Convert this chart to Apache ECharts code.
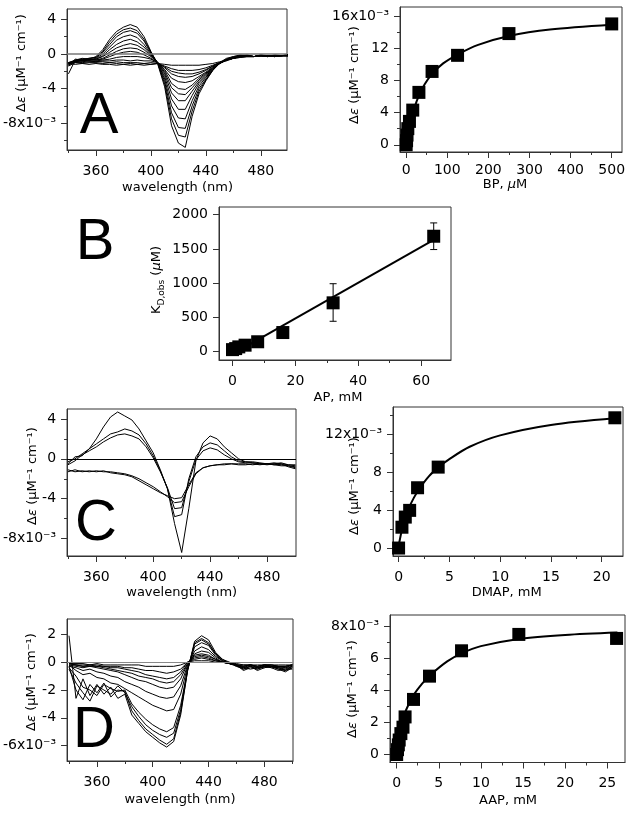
<!DOCTYPE html>
<html><head><meta charset="utf-8">
<script src="https://cdn.jsdelivr.net/npm/echarts@6/dist/echarts.min.js"></script>
<style>html,body{margin:0;padding:0;background:#fff}#c{width:631px;height:813px}</style>
</head><body><div id="c"></div>
<script>
// ---------- DATA ----------
const wl = [340,345,350,355,360,365,370,375,380,385,390,395,400,405,410,415,420,425,430,435,440,445,450,455,460,465,470,475,480,485,490,495,500];

// Panel A spectra (x1e-3)
const aSpec1  = [-1.1,-1.2,-1.1,-1.2,-1.1,-1.2,-1.2,-1.3,-1.2,-1.3,-1.2,-1.3,-1.2,-1.1,-1.2,-1.3,-1.3,-1.3,-1.3,-1.3,-1.2,-1.1,-0.9,-0.7,-0.5,-0.4,-0.3,-0.3,-0.2,-0.3,-0.2,-0.2,-0.1];
const aSpec2  = [-1.4,-1.0,-1.1,-1.0,-1.0,-1.1,-1.0,-1.1,-1.2,-1.1,-1.2,-1.1,-1.2,-1.1,-1.4,-1.7,-1.9,-1.9,-1.9,-1.8,-1.6,-1.3,-1.0,-0.7,-0.5,-0.4,-0.3,-0.3,-0.2,-0.2,-0.3,-0.2,-0.2];
const aSpec3  = [-1.2,-0.9,-1.0,-0.9,-0.9,-0.9,-1.0,-0.9,-1.0,-1.0,-1.0,-1.1,-1.0,-1.1,-1.5,-2.0,-2.2,-2.3,-2.3,-2.1,-1.8,-1.4,-1.0,-0.8,-0.5,-0.3,-0.3,-0.3,-0.2,-0.3,-0.2,-0.2,-0.1];
const aSpec4  = [-1.0,-1.0,-0.9,-0.8,-0.9,-0.8,-0.8,-0.7,-0.7,-0.8,-0.7,-0.8,-0.8,-1.0,-1.6,-2.3,-2.6,-2.7,-2.6,-2.3,-1.9,-1.4,-1.0,-0.7,-0.5,-0.3,-0.2,-0.3,-0.2,-0.2,-0.3,-0.2,-0.2];
const aSpec5  = [-1.3,-0.9,-0.8,-0.8,-0.8,-0.7,-0.6,-0.4,-0.3,-0.3,-0.3,-0.4,-0.6,-1.0,-1.8,-2.8,-3.2,-3.3,-3.1,-2.6,-2.1,-1.5,-1.0,-0.7,-0.5,-0.3,-0.3,-0.3,-0.2,-0.3,-0.2,-0.2,-0.2];
const aSpec6  = [-1.1,-0.8,-0.8,-0.7,-0.7,-0.6,-0.3,0.0,0.2,0.3,0.2,-0.1,-0.5,-1.0,-1.9,-3.4,-4.0,-4.1,-3.6,-2.8,-2.2,-1.6,-1.1,-0.7,-0.5,-0.3,-0.2,-0.3,-0.2,-0.2,-0.3,-0.2,-0.1];
const aSpec7  = [-1.0,-0.9,-0.7,-0.6,-0.7,-0.5,-0.1,0.3,0.6,0.7,0.6,0.2,-0.3,-1.0,-2.1,-3.9,-4.6,-4.7,-3.9,-3.0,-2.3,-1.6,-1.1,-0.7,-0.4,-0.2,-0.3,-0.3,-0.2,-0.3,-0.2,-0.2,-0.2];
const aSpec8  = [-1.2,-0.8,-0.7,-0.7,-0.6,-0.3,0.2,0.7,1.0,1.2,1.0,0.5,-0.2,-1.0,-2.3,-4.5,-5.4,-5.4,-4.3,-3.2,-2.4,-1.7,-1.1,-0.7,-0.4,-0.3,-0.2,-0.3,-0.2,-0.2,-0.3,-0.2,-0.1];
const aSpec9  = [-1.0,-0.7,-0.8,-0.6,-0.6,-0.2,0.5,1.1,1.5,1.7,1.4,0.8,-0.1,-1.0,-2.6,-5.2,-6.4,-6.4,-4.8,-3.4,-2.6,-1.7,-1.1,-0.7,-0.4,-0.2,-0.2,-0.3,-0.2,-0.3,-0.2,-0.2,-0.2];
const aSpec10 = [-1.1,-0.8,-0.6,-0.7,-0.5,0.0,0.8,1.6,2.0,2.2,1.9,1.1,0.0,-1.0,-2.9,-6.0,-7.4,-7.5,-5.4,-3.7,-2.7,-1.8,-1.1,-0.6,-0.4,-0.2,-0.3,-0.3,-0.2,-0.2,-0.3,-0.2,-0.1];
const aSpec11 = [-1.3,-0.6,-0.7,-0.5,-0.4,0.2,1.1,2.0,2.5,2.7,2.4,1.5,0.1,-1.1,-3.2,-6.8,-8.5,-8.6,-6.0,-4.0,-2.9,-1.8,-1.1,-0.7,-0.4,-0.2,-0.2,-0.3,-0.1,-0.3,-0.2,-0.2,-0.2];
const aSpec12 = [-1.0,-0.8,-0.6,-0.5,-0.4,0.3,1.4,2.3,2.8,3.0,2.7,1.7,0.2,-1.1,-3.5,-7.5,-9.4,-9.6,-6.6,-4.3,-3.0,-1.9,-1.1,-0.6,-0.3,-0.2,-0.1,-0.3,-0.2,-0.3,-0.1,-0.2,-0.2];
const aSpec13 = [-2.3,-0.7,-0.5,-0.6,-0.3,0.5,1.7,2.6,3.1,3.4,3.1,2.0,0.3,-1.2,-3.8,-8.3,-10.3,-10.8,-7.2,-4.6,-3.1,-1.9,-1.0,-0.5,-0.3,-0.1,-0.2,-0.3,-0.1,-0.2,-0.3,-0.2,-0.1];
const aSpectra = [aSpec1,aSpec2,aSpec3,aSpec4,aSpec5,aSpec6,aSpec7,aSpec8,aSpec9,aSpec10,aSpec11,aSpec12,aSpec13];

// Panel A binding (BP, uM)
const aBindX = [0,1,2,4,8,16,31,63,125,250,500];
const aBindY = [0,0.5,1.2,2.0,2.9,4.3,6.5,9.1,11.1,13.8,15.0];
const aFitX  = [0,2,5,10,20,31,45,63,90,125,175,250,350,500];
const aFitY  = [0,0.7,1.6,2.9,4.6,6.1,7.5,8.8,10.1,11.2,12.4,13.5,14.3,14.9];

// Panel B
const bX = [0,1,2,4,8,16,32,64];
const bY = [25,40,65,90,140,275,710,1685];
const bErrX = [32,64];
const bErrLo = [440,1490];
const bErrHi = [990,1880];
const bFitX = [0,64];
const bFitY = [-40,1630];

// Panel C spectra
const cSpec1 = [-0.5,0.2,0.3,1.0,2.0,3.2,4.2,4.7,4.3,3.9,3.0,1.8,0.6,-1.1,-3.0,-6.5,-9.4,-5.0,-0.2,1.6,2.3,2.0,1.2,0.6,0.0,-0.3,-0.3,-0.4,-0.5,-0.6,-0.5,-0.8,-1.0];
const cSpec2 = [-0.3,0.0,0.5,1.0,1.5,2.0,2.5,2.7,3.0,2.8,2.4,1.5,0.3,-1.2,-3.0,-5.8,-5.6,-2.0,0.2,1.2,1.6,1.4,0.8,0.2,-0.2,-0.3,-0.4,-0.5,-0.5,-0.4,-0.5,-0.6,-0.7];
const cSpec3 = [-0.6,-0.2,0.4,0.8,1.2,1.7,2.1,2.4,2.5,2.3,2.0,1.2,0.1,-1.3,-2.9,-5.0,-4.9,-2.3,-0.1,0.8,1.1,0.9,0.4,0.0,-0.3,-0.4,-0.4,-0.5,-0.5,-0.5,-0.4,-0.6,-0.6];
const cSpec4 = [-1.1,-1.3,-1.2,-1.3,-1.2,-1.3,-1.3,-1.4,-1.5,-1.7,-2.0,-2.4,-2.8,-3.3,-3.8,-4.4,-4.3,-2.8,-1.5,-0.9,-0.7,-0.6,-0.5,-0.5,-0.5,-0.5,-0.6,-0.5,-0.6,-0.5,-0.6,-0.7,-0.8];
const cSpec5 = [-1.3,-1.1,-1.3,-1.2,-1.3,-1.2,-1.4,-1.5,-1.6,-1.8,-2.2,-2.6,-3.0,-3.4,-3.7,-4.0,-3.9,-2.6,-1.4,-0.9,-0.7,-0.6,-0.6,-0.5,-0.6,-0.6,-0.5,-0.6,-0.5,-0.6,-0.7,-0.7,-0.9];
const cSpectra = [cSpec1,cSpec2,cSpec3,cSpec4,cSpec5];

// Panel C binding (DMAP, mM)
const cBindX = [0,0.33,0.66,1.09,1.87,3.9,21.3];
const cBindY = [0,2.2,3.27,3.98,6.37,8.55,13.76];
const cFitX  = [0,0.3,0.6,1,1.5,2,3,4,5,7,10,15,21.3];
const cFitY  = [0.2,1.8,3.0,4.2,5.3,6.2,7.6,8.6,9.4,10.7,11.9,13.0,13.7];

// Panel D spectra
const dSpec1  = [-0.1,-0.1,-0.1,-0.2,-0.1,-0.2,-0.2,-0.2,-0.2,-0.2,-0.2,-0.3,-0.3,-0.3,-0.3,-0.3,-0.2,0.0,0.1,0.1,0.1,0.0,0.0,-0.1,-0.1,-0.2,-0.2,-0.2,-0.2,-0.2,-0.2,-0.2,-0.2];
const dSpec2  = [-0.1,-0.2,-0.2,-0.2,-0.2,-0.3,-0.3,-0.3,-0.4,-0.4,-0.5,-0.6,-0.6,-0.7,-0.8,-0.7,-0.5,0.0,0.2,0.3,0.2,0.1,0.0,-0.1,-0.2,-0.2,-0.2,-0.3,-0.2,-0.2,-0.3,-0.3,-0.2];
const dSpec3  = [-0.1,-0.2,-0.3,-0.2,-0.3,-0.3,-0.4,-0.4,-0.5,-0.6,-0.7,-0.9,-1.0,-1.1,-1.2,-1.1,-0.7,0.0,0.3,0.4,0.3,0.1,0.0,-0.1,-0.2,-0.3,-0.2,-0.3,-0.2,-0.2,-0.3,-0.3,-0.2];
const dSpec4  = [-0.2,-0.2,-0.3,-0.3,-0.3,-0.4,-0.5,-0.6,-0.7,-0.8,-1.0,-1.1,-1.2,-1.4,-1.5,-1.4,-0.9,-0.1,0.4,0.5,0.4,0.2,0.0,-0.1,-0.2,-0.3,-0.2,-0.3,-0.2,-0.3,-0.3,-0.3,-0.2];
const dSpec5  = [-0.2,-0.3,-0.4,-0.3,-0.4,-0.5,-0.6,-0.7,-0.9,-1.1,-1.3,-1.4,-1.6,-1.8,-1.9,-1.8,-1.2,-0.1,0.5,0.6,0.5,0.2,0.0,-0.1,-0.2,-0.3,-0.2,-0.4,-0.2,-0.3,-0.3,-0.4,-0.2];
const dSpec6  = [-0.3,-0.4,-0.6,-0.5,-0.7,-0.8,-1.0,-1.1,-1.4,-1.6,-1.8,-2.1,-2.3,-2.5,-2.6,-2.5,-1.7,-0.2,0.6,0.8,0.7,0.3,0.0,-0.1,-0.2,-0.4,-0.2,-0.4,-0.3,-0.3,-0.4,-0.4,-0.3];
const dSpec7  = [-0.2,-0.6,-0.9,-0.8,-1.1,-1.2,-1.5,-1.6,-1.9,-2.2,-2.5,-2.8,-3.1,-3.3,-3.5,-3.4,-2.3,-0.3,0.8,1.1,0.9,0.4,0.1,-0.1,-0.2,-0.4,-0.3,-0.4,-0.3,-0.3,-0.4,-0.5,-0.3];
const dSpec8  = [-0.4,-1.0,-1.8,-2.0,-2.4,-1.6,-1.9,-2.1,-2.0,-3.0,-3.6,-4.1,-4.5,-4.8,-5.0,-4.7,-3.1,-0.5,1.1,1.4,1.2,0.5,0.1,-0.1,-0.2,-0.5,-0.3,-0.5,-0.3,-0.4,-0.4,-0.6,-0.4];
const dSpec9  = [-0.5,-1.5,-2.2,-2.8,-1.7,-2.0,-2.3,-1.7,-2.2,-3.2,-3.9,-4.5,-4.9,-5.2,-5.4,-5.1,-3.4,-0.5,1.3,1.6,1.3,0.6,0.1,-0.1,-0.3,-0.4,-0.5,-0.4,-0.4,-0.3,-0.5,-0.6,-0.3];
const dSpec10 = [-0.3,-2.0,-2.7,-1.6,-2.2,-1.5,-2.5,-2.0,-2.1,-3.5,-4.2,-4.8,-5.2,-5.6,-5.9,-5.5,-3.6,-0.6,1.4,1.7,1.4,0.6,0.2,-0.1,-0.2,-0.6,-0.4,-0.5,-0.3,-0.4,-0.6,-0.5,-0.5];
const dSpec11 = [1.9,-2.6,-1.2,-2.4,-1.6,-2.3,-1.8,-2.6,-2.3,-3.8,-4.4,-5.0,-5.4,-5.8,-6.1,-5.7,-3.8,-0.6,1.5,1.9,1.6,0.7,0.2,0.0,-0.3,-0.5,-0.3,-0.6,-0.4,-0.3,-0.5,-0.7,-0.4];
const dSpectra = [dSpec1,dSpec2,dSpec3,dSpec4,dSpec5,dSpec6,dSpec7,dSpec8,dSpec9,dSpec10,dSpec11];

// Panel D binding (AAP, mM)
const dBindX = [0,0.1,0.2,0.3,0.5,0.75,1.0,2.0,3.9,7.7,14.5,26.1];
const dBindY = [0,0.3,0.6,0.9,1.3,1.7,2.34,3.43,4.88,6.46,7.48,7.23];
const dFitX  = [0,0.25,0.5,1,1.5,2,3,4,6,7.7,10,14.5,20,26.2];
const dFitY  = [0,0.9,1.6,2.6,3.2,3.7,4.4,4.95,5.8,6.3,6.75,7.2,7.45,7.6];

// Tick values / labels
const specXTicks = [360,400,440,480];
const specXLabels = ['360','400','440','480'];
const specXMinor = [340,380,420,460];
const specXMinorD = [340,380,420,460,500];
const aSpecYTicks = [-8,-4,0,4];
const aSpecYLabels = ['-8x10⁻³','-4','0','4'];
const aSpecYMinor = [-10,-6,-2,2];
const aBindXTicks = [0,100,200,300,400,500];
const aBindXLabels = ['0','100','200','300','400','500'];
const aBindXMinor = [50,150,250,350,450];
const aBindYTicks = [0,4,8,12,16];
const aBindYLabels = ['0','4','8','12','16x10⁻³'];
const aBindYMinor = [2,6,10,14];
const bXTicks = [0,20,40,60];
const bXLabels = ['0','20','40','60'];
const bXMinor = [10,30,50];
const bYTicks = [0,500,1000,1500,2000];
const bYLabels = ['0','500','1000','1500','2000'];
const cSpecYTicks = [-8,-4,0,4];
const cSpecYLabels = ['-8x10⁻³','-4','0','4'];
const cSpecYMinor = [-6,-2,2];
const cBindXTicks = [0,5,10,15,20];
const cBindXLabels = ['0','5','10','15','20'];
const cBindXMinor = [2.5,7.5,12.5,17.5];
const cBindYTicks = [0,4,8,12];
const cBindYLabels = ['0','4','8','12x10⁻³'];
const cBindYMinor = [2,6,10,14];
const dSpecYTicks = [-6,-4,-2,0,2];
const dSpecYLabels = ['-6x10⁻³','-4','-2','0','2'];
const dBindXTicks = [0,5,10,15,20,25];
const dBindXLabels = ['0','5','10','15','20','25'];
const dBindXMinor = [2.5,7.5,12.5,17.5,22.5];
const dBindYTicks = [0,2,4,6,8];
const dBindYLabels = ['0','2','4','6','8x10⁻³'];
const dBindYMinor = [1,3,5,7];

// ---------- CHART ----------
const FONT = 'DejaVu Sans';
const AX = '#333';
const grids = [], xAxes = [], yAxes = [], series = [], graphics = [];

function fmt(ticks, labels){
  return v => { const i = ticks.findIndex(t => Math.abs(t - v) < 1e-9); return i >= 0 ? labels[i] : ''; };
}
function addPanel(p){
  const gi = grids.length;
  grids.push({left:p.g[0], top:p.g[1], width:p.g[2], height:p.g[3], show:true, borderColor:AX, borderWidth:1, backgroundColor:'transparent'});
  const xi = xAxes.length, yi = yAxes.length;
  const common = {type:'value', gridIndex:gi, splitLine:{show:false}, minorSplitLine:{show:false}, silent:true};
  xAxes.push(Object.assign({}, common, {min:p.xr[0], max:p.xr[1], position:'bottom',
    axisLine:{show:true, onZero:false, lineStyle:{color:AX, width:1}},
    axisTick:{show:true, customValues:p.xt, length:6, lineStyle:{color:AX, width:1}},
    axisLabel:{show:true, customValues:p.xt, formatter:fmt(p.xt,p.xl), color:'#000', fontFamily:FONT, fontSize:14, margin:(p.xmg||14)}}));
  if (p.xm) xAxes.push(Object.assign({}, common, {min:p.xr[0], max:p.xr[1], position:'bottom',
    axisLine:{show:false, onZero:false}, axisTick:{show:true, customValues:p.xm, length:3, lineStyle:{color:AX, width:1}},
    axisLabel:{show:false}}));
  yAxes.push(Object.assign({}, common, {min:p.yr[0], max:p.yr[1], position:'left',
    axisLine:{show:true, onZero:false, lineStyle:{color:AX, width:1}},
    axisTick:{show:true, customValues:p.yt, length:6, lineStyle:{color:AX, width:1}},
    axisLabel:{show:true, customValues:p.yt, formatter:fmt(p.yt,p.yl), color:'#000', fontFamily:FONT, fontSize:14, margin:11}}));
  if (p.ym) yAxes.push(Object.assign({}, common, {min:p.yr[0], max:p.yr[1], position:'left',
    axisLine:{show:false, onZero:false}, axisTick:{show:true, customValues:p.ym, length:3, lineStyle:{color:AX, width:1}},
    axisLabel:{show:false}}));
  return {xi, yi};
}
function lineS(ax, xs, ys, w, extra){
  return Object.assign({type:'line', xAxisIndex:ax.xi, yAxisIndex:ax.yi, data:xs.map((x,i)=>[x,ys[i]]),
    showSymbol:false, symbol:'none', lineStyle:{color:'#000', width:w}, animation:false, silent:true, z:3}, extra||{});
}
function scatS(ax, xs, ys){
  return {type:'scatter', xAxisIndex:ax.xi, yAxisIndex:ax.yi, data:xs.map((x,i)=>[x,ys[i]]),
    symbol:'rect', symbolSize:13, itemStyle:{color:'#000', opacity:1}, animation:false, silent:true, z:5};
}
function zeroLine(color, w){
  return {silent:true, symbol:['none','none'], label:{show:false}, lineStyle:{color:color, width:w, type:'solid'}, data:[{yAxis:0}], animation:false};
}

// Panel A spectrum
const pA = addPanel({g:[67,9,220,141], xr:[339,499], yr:[-11.1,5.2], xt:specXTicks, xl:specXLabels, xm:specXMinor, yt:aSpecYTicks, yl:aSpecYLabels, ym:aSpecYMinor});
aSpectra.forEach((s,i)=> series.push(lineS(pA, wl, s, 1, i===0 ? {markLine:zeroLine('#777',1.5)} : {})));
// Panel A binding
const pA2 = addPanel({g:[400,7,222,145], xr:[-15,525], yr:[-0.9,17.1], xt:aBindXTicks, xl:aBindXLabels, xm:aBindXMinor, yt:aBindYTicks, yl:aBindYLabels, ym:aBindYMinor, xmg:11});
series.push(lineS(pA2, aFitX, aFitY, 2, {smooth:0.3}));
series.push(scatS(pA2, aBindX, aBindY));
// Panel B
const pB = addPanel({g:[219,207,232,153], xr:[-4.3,69.5], yr:[-127,2113], xt:bXTicks, xl:bXLabels, xm:bXMinor, yt:bYTicks, yl:bYLabels});
series.push(lineS(pB, bFitX, bFitY, 2));
series.push({type:'custom', xAxisIndex:pB.xi, yAxisIndex:pB.yi, data:bErrX.map((x,i)=>[x,bErrLo[i],bErrHi[i]]), animation:false, silent:true, z:4,
  renderItem:(params, api)=>{
    const x = api.value(0), p1 = api.coord([x, api.value(1)]), p2 = api.coord([x, api.value(2)]);
    const w = 3.5, st = {stroke:'#000', lineWidth:1};
    return {type:'group', children:[
      {type:'line', shape:{x1:p1[0], y1:p1[1], x2:p2[0], y2:p2[1]}, style:st},
      {type:'line', shape:{x1:p1[0]-w, y1:p1[1], x2:p1[0]+w, y2:p1[1]}, style:st},
      {type:'line', shape:{x1:p2[0]-w, y1:p2[1], x2:p2[0]+w, y2:p2[1]}, style:st}]};
  }});
series.push(scatS(pB, bX, bY));
// Panel C spectrum
const pC = addPanel({g:[67,409,229,147], xr:[339.4,500.4], yr:[-9.75,5.0], xt:specXTicks, xl:specXLabels, xm:specXMinor, yt:cSpecYTicks, yl:cSpecYLabels, ym:cSpecYMinor});
cSpectra.forEach((s,i)=> series.push(lineS(pC, wl, s, 1, i===0 ? {markLine:zeroLine('#000',1)} : {})));
// Panel C binding
const pC2 = addPanel({g:[393,407,230,149], xr:[-0.55,22.1], yr:[-0.84,14.9], xt:cBindXTicks, xl:cBindXLabels, xm:cBindXMinor, yt:cBindYTicks, yl:cBindYLabels, ym:cBindYMinor});
series.push(lineS(pC2, cFitX, cFitY, 2, {smooth:0.3}));
series.push(scatS(pC2, cBindX, cBindY));
// Panel D spectrum
const pD = addPanel({g:[64,619,229,142], xr:[338.6,500.5], yr:[-7.1,3.1], xt:specXTicks, xl:specXLabels, xm:specXMinorD, yt:dSpecYTicks, yl:dSpecYLabels});
dSpectra.forEach((s,i)=> series.push(lineS(pD, wl, s, 1, i===0 ? {markLine:zeroLine('#888',1)} : {})));
// Panel D binding
const pD2 = addPanel({g:[390,615,235,147.5], xr:[-0.79,27.1], yr:[-0.5,8.69], xt:dBindXTicks, xl:dBindXLabels, xm:dBindXMinor, yt:dBindYTicks, yl:dBindYLabels, ym:dBindYMinor});
series.push(lineS(pD2, dFitX, dFitY, 2, {smooth:0.3}));
series.push(scatS(pD2, dBindX, dBindY));

// ---------- TEXT ----------
const rich = {
  it:{fontStyle:'italic', fontFamily:FONT, fontSize:13, fill:'#000'},
  sub:{fontFamily:FONT, fontSize:9, padding:[9,0,0,0], fill:'#000'}
};
function txt(x, y, text, size, rot, family){
  graphics.push({type:'text', x:x, y:y, rotation:rot||0, silent:true, z:10,
    style:{text:text, fontFamily:family||FONT, fontSize:size, fill:'#000',
      textAlign:'center', textVerticalAlign:'middle', align:'center', verticalAlign:'middle', rich:rich}});
}
const R = Math.PI/2;
const deLabel = 'Δ{it|ε} (μM⁻¹ cm⁻¹)';
txt(22, 63, deLabel, 13, R);
txt(177.5, 188, 'wavelength (nm)', 13);
txt(355, 75, deLabel, 13, R);
txt(505, 185, 'BP, {it|μ}M', 13);
txt(157, 280, 'K{sub|D,obs} ({it|μ}M)', 13, R);
txt(338, 398, 'AP, mM', 13);
txt(33, 476, deLabel, 13, R);
txt(181.7, 593, 'wavelength (nm)', 13);
txt(355, 486, deLabel, 13, R);
txt(506.7, 593, 'DMAP, mM', 13);
txt(32, 682, deLabel, 13, R);
txt(180, 800, 'wavelength (nm)', 13);
txt(353, 689, deLabel, 13, R);
txt(508, 801, 'AAP, mM', 13);
// Panel letters
const LF = 'Liberation Sans';
txt(99, 117, 'A', 58, 0, LF);
txt(95, 243, 'B', 58, 0, LF);
txt(96, 524, 'C', 58, 0, LF);
txt(94, 731, 'D', 58, 0, LF);

const chart = echarts.init(document.getElementById('c'), null, {renderer:'canvas'});
chart.setOption({
  animation:false,
  backgroundColor:'#fff',
  grid:grids, xAxis:xAxes, yAxis:yAxes, series:series, graphic:graphics
});
</script></body></html>
